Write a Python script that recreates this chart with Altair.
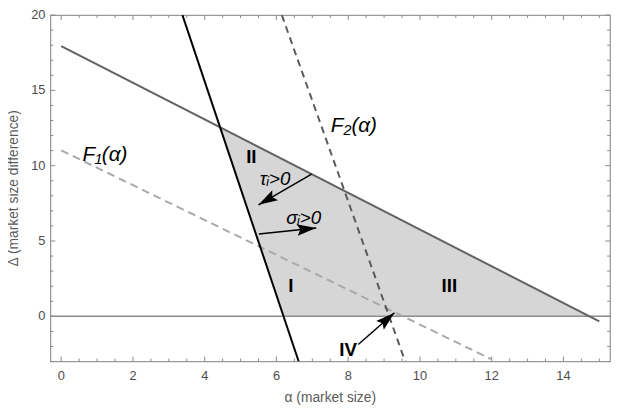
import math
import altair as alt
import pandas as pd

# ---------------- data ----------------
x_domain = [-0.3, 15.3]
y_domain = [-3, 20]

x_major = [0, 2, 4, 6, 8, 10, 12, 14]
x_minor = [0.5, 1, 1.5, 2.5, 3, 3.5, 4.5, 5, 5.5, 6.5, 7, 7.5, 8.5, 9, 9.5,
           10.5, 11, 11.5, 12.5, 13, 13.5, 14.5, 15]
y_major = [0, 5, 10, 15, 20]
y_minor = [-3, -2, -1, 1, 2, 3, 4, 6, 7, 8, 9, 11, 12, 13, 14, 16, 17, 18, 19]

x_title = "α (market size)"
y_title = "Δ (market size difference)"

# upper solid boundary
upper_a = [0.0, 15.0]
upper_d = [17.94, -0.33]
# steep black boundary
black_a = [3.38, 6.62]
black_d = [20.0, -3.0]
# F2 (dark dashed)
f2_a = [6.15, 9.59]
f2_d = [20.0, -3.0]
# F1 (light dashed)
f1_a = [0.0, 12.0]
f1_d = [11.02, -2.86]
# shaded region (top / bottom edges)
shade_a = [4.42, 6.195, 14.73]
shade_hi = [12.56, 10.39, 0.0]
shade_lo = [12.56, 0.0, 0.0]

# arrows
arrow_x0 = [6.98, 5.51, 8.28]
arrow_y0 = [9.44, 5.47, -1.87]
arrow_x1 = [5.50, 7.11, 9.29]
arrow_y1 = [7.40, 5.87, 0.24]

# labels
roman_text = ["II", "I", "III", "IV"]
roman_x = [5.30, 6.40, 10.82, 8.00]
roman_y = [10.54, 1.99, 1.99, -2.25]

func_text = ["F₁(α)", "F₂(α)"]
func_x = [1.22, 8.16]
func_y = [10.69, 12.60]

cond_text = ["τᵢ>0", "σᵢ>0"]
cond_x = [5.96, 6.76]
cond_y = [9.10, 6.54]

# ---------------- layout / style ----------------
W, H = 567, 351
FONT = "Liberation Sans"
TICK = "#8a8a8a"
LABEL = "#4d4d4d"
TITLE = "#5a5a5a"
MAJ, MIN = 5, 3

px_x = W / (x_domain[1] - x_domain[0])
px_y = H / (y_domain[1] - y_domain[0])

xs = alt.Scale(domain=x_domain, nice=False, zero=False)
ys = alt.Scale(domain=y_domain, nice=False, zero=False)

# ---------------- layers ----------------
shade_df = pd.DataFrame({"a": shade_a, "hi": shade_hi, "lo": shade_lo})
shade = alt.Chart(shade_df).mark_area(color="#d6d6d6", opacity=1).encode(
    x=alt.X("a:Q", scale=xs, axis=None),
    y=alt.Y("hi:Q", scale=ys, axis=None),
    y2="lo:Q",
)

zero_df = pd.DataFrame({"z": [0]})
zero = alt.Chart(zero_df).mark_rule(color="#8c8c8c", strokeWidth=1.5).encode(
    y=alt.Y("z:Q", scale=ys, axis=None)
)


# inward frame ticks (Mathematica style), positioned through the scales
def xticks(values, length):
    df = pd.DataFrame({"v": values})
    base = alt.Chart(df).mark_rule(color=TICK, strokeWidth=1)
    bottom = base.encode(x=alt.X("v:Q", scale=xs, axis=None),
                         y=alt.value(H), y2=alt.value(H - length))
    top = base.encode(x=alt.X("v:Q", scale=xs, axis=None),
                      y=alt.value(0), y2=alt.value(length))
    return [bottom, top]


def yticks(values, length):
    df = pd.DataFrame({"v": values})
    base = alt.Chart(df).mark_rule(color=TICK, strokeWidth=1)
    left = base.encode(y=alt.Y("v:Q", scale=ys, axis=None),
                       x=alt.value(0), x2=alt.value(length))
    right = base.encode(y=alt.Y("v:Q", scale=ys, axis=None),
                        x=alt.value(W), x2=alt.value(W - length))
    return [left, right]


ticks = xticks(x_major, MAJ) + xticks(x_minor, MIN) + yticks(y_major, MAJ) + yticks(y_minor, MIN)

# tick labels and axis titles as text
xlab = alt.Chart(pd.DataFrame({"v": x_major})).mark_text(
    font=FONT, fontSize=13, color=LABEL, align="center", baseline="middle"
).encode(x=alt.X("v:Q", scale=xs, axis=None), y=alt.value(H + 15), text=alt.Text("v:Q"))
ylab = alt.Chart(pd.DataFrame({"v": y_major})).mark_text(
    font=FONT, fontSize=13, color=LABEL, align="right", baseline="middle"
).encode(y=alt.Y("v:Q", scale=ys, axis=None), x=alt.value(-5), text=alt.Text("v:Q"))
xtit = alt.Chart(pd.DataFrame({"t": [x_title]})).mark_text(
    font=FONT, fontSize=14, color=TITLE, align="center", baseline="middle"
).encode(x=alt.value(W / 2), y=alt.value(H + 37), text="t:N")
ytit = alt.Chart(pd.DataFrame({"t": [y_title]})).mark_text(
    font=FONT, fontSize=14, color=TITLE, align="center", baseline="middle", angle=270
).encode(x=alt.value(-37), y=alt.value(H / 2), text="t:N")


def line(a, d, color, width, dash=None):
    df = pd.DataFrame({"a": a, "d": d})
    kw = dict(color=color, strokeWidth=width, clip=True)
    if dash:
        kw["strokeDash"] = dash
    return alt.Chart(df).mark_line(**kw).encode(
        x=alt.X("a:Q", scale=xs, axis=None),
        y=alt.Y("d:Q", scale=ys, axis=None),
    )


upper = line(upper_a, upper_d, "#626262", 2)
black = line(black_a, black_d, "#000000", 2)
f2 = line(f2_a, f2_d, "#5a5a5a", 2, dash=[7, 5])
f1 = line(f1_a, f1_d, "#a9a9a9", 2, dash=[8, 5])

arr = pd.DataFrame({"x0": arrow_x0, "y0": arrow_y0, "x1": arrow_x1, "y1": arrow_y1})
arr["ang"] = [
    math.degrees(math.atan2((r.x1 - r.x0) * px_x, (r.y1 - r.y0) * px_y)) % 360
    for r in arr.itertuples()
]
shafts = alt.Chart(arr).mark_rule(color="black", strokeWidth=1.5).encode(
    x=alt.X("x0:Q", scale=xs, axis=None),
    y=alt.Y("y0:Q", scale=ys, axis=None),
    x2="x1:Q",
    y2="y1:Q",
)
heads = alt.Chart(arr).mark_point(
    shape="M0,0L-0.6,2L0,1.65L0.6,2Z", size=380, filled=True, color="black",
    opacity=1, strokeWidth=0,
).encode(
    x=alt.X("x1:Q", scale=xs, axis=None),
    y=alt.Y("y1:Q", scale=ys, axis=None),
    angle=alt.Angle("ang:Q", scale=None),
)


def texts(lbl, x, y, size, weight="normal", style="normal"):
    df = pd.DataFrame({"t": lbl, "x": x, "y": y})
    return alt.Chart(df).mark_text(
        font=FONT, fontSize=size, fontWeight=weight, fontStyle=style, color="black",
        align="center", baseline="middle",
    ).encode(
        x=alt.X("x:Q", scale=xs, axis=None),
        y=alt.Y("y:Q", scale=ys, axis=None),
        text="t:N",
    )


roman = texts(roman_text, roman_x, roman_y, 19, weight="bold")
funcs = texts(func_text, func_x, func_y, 21, style="italic")
conds = texts(cond_text, cond_x, cond_y, 19, style="italic")

chart = alt.layer(
    shade, zero, *ticks, f1, f2, upper, black, shafts, heads, roman, funcs, conds,
    xlab, ylab, xtit, ytit
).properties(
    width=W, height=H,
    autosize=alt.AutoSizeParams(type="none"),
    padding={"left": 43, "top": 4.5, "right": 6, "bottom": 50},
).configure_view(stroke="#9a9a9a", strokeWidth=1.3)

chart.save("out.html", embed_options={"renderer": "svg", "actions": False})
